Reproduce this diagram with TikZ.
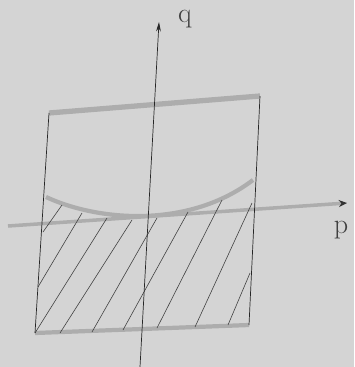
\documentclass[tikz,border=0pt]{standalone}
\usetikzlibrary{arrows.meta}
\definecolor{paper}{gray}{0.83}
\definecolor{pencil}{gray}{0.68}

\begin{document}
\begin{tikzpicture}[x=0.03cm, y=-0.03cm,
    side/.style={draw=black!85, line width=0.6pt},
    smudge/.style={draw=pencil, line width=3.6pt},
    hatch/.style={draw=black!75, line width=0.5pt},
    vaxis/.style={-{Stealth[length=8pt, width=4pt]}, draw=black!85, line width=0.6pt},
    haxis/.style={-{Stealth[length=7pt, width=6pt, color=black!80]}, draw=pencil, line width=3pt},
    lbl/.style={font=\fontsize{24}{26}\selectfont, text=black!75, inner sep=0pt}
  ]
  \fill[paper] (0,0) rectangle (354,367);
  \useasboundingbox (0,0) rectangle (354,367);

  % corners of the box
  \coordinate (tl) at (49,113);
  \coordinate (tr) at (260,96);
  \coordinate (bl) at (35,333);
  \coordinate (br) at (249,325);

  % axes end points
  \coordinate (qstart) at (140,367);
  \coordinate (qend) at (159,22);
  \coordinate (pstart) at (8,226);
  \coordinate (pend) at (347,203);

  % curve ends
  \coordinate (cl) at (46,197);
  \coordinate (cr) at (253,180);

  % pencil lines
  \draw[smudge, line width=4.5pt] (tl) -- (tr);
  \draw[smudge] (bl) -- (br);
  \draw[smudge] (cl) .. controls (100,222) and (190,228) .. (cr);
  \draw[haxis] (pstart) -- (pend);

  % hatching below the curve
  \foreach \xa/\ya/\xb/\yb in {43/232/62/205, 38/287/82/213, 35/333/107/218,
      60/333/132/220, 92/332/157/218, 123/330/188/212, 157/328/222/200,
      195/327/252/203, 228/325/250/273}
    \draw[hatch] (\xa,\ya) -- (\xb,\yb);

  % sides and the q axis
  \draw[side] (tl) -- (bl);
  \draw[side] (tr) -- (br);
  \draw[vaxis] (qstart) -- (qend);

  \node[lbl] (qlabel) at (185,19) {q};
  \node[lbl] (plabel) at (341,230) {p};
\end{tikzpicture}
\end{document}
